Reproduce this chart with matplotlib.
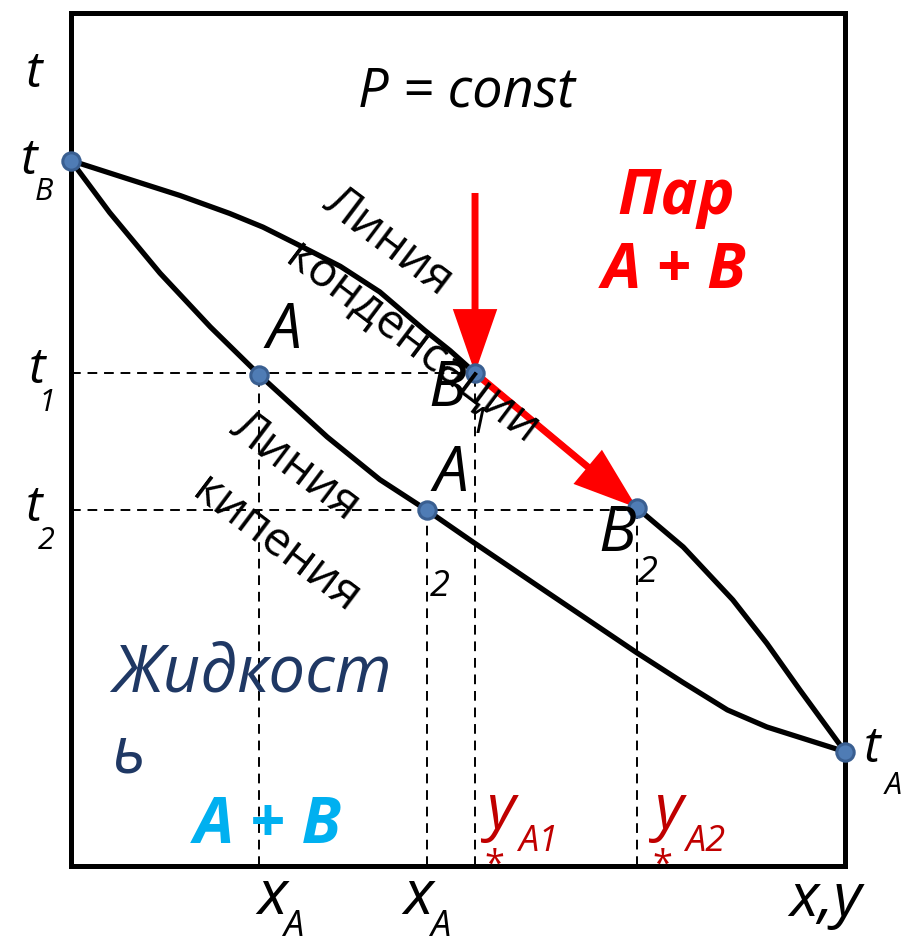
import numpy as np
import matplotlib
matplotlib.use("Agg")
import matplotlib.pyplot as plt
from matplotlib.patches import FancyArrowPatch

plt.rcParams['font.family'] = ['Open Sans', 'DejaVu Sans']

W, H = 908, 947

# composition (x, 0..1) and temperature (t, relative units)
dew_x = [0.0, 0.072, 0.141, 0.205, 0.248, 0.292, 0.348, 0.399, 0.457, 0.490,
         0.522, 0.627, 0.731, 0.791, 0.855, 0.899, 0.942, 1.0]
dew_t = [0.827, 0.806, 0.786, 0.765, 0.749, 0.729, 0.703, 0.673, 0.628, 0.604,
         0.578, 0.499, 0.420, 0.374, 0.312, 0.261, 0.206, 0.134]

boil_x = [0.0, 0.050, 0.115, 0.180, 0.243, 0.331, 0.399, 0.460, 0.519, 0.615,
          0.731, 0.791, 0.848, 0.899, 1.0]
boil_t = [0.827, 0.766, 0.695, 0.632, 0.576, 0.503, 0.453, 0.417, 0.380, 0.321,
          0.250, 0.215, 0.183, 0.163, 0.134]

# marked points: tB, A1, B1, A2, B2, tA
pt_names = ['tB', 'A1', 'B1', 'A2', 'B2', 'tA']
pt_x = [0.0, 0.243, 0.522, 0.460, 0.731, 1.0]
pt_t = [0.827, 0.576, 0.578, 0.417, 0.420, 0.134]

t1 = 0.578
t2 = 0.417
arrow_start_t = 0.789

fig = plt.figure(figsize=(W / 100, H / 100), dpi=100)
ax = fig.add_axes([71 / W, 1 - 866 / H, (845 - 71) / W, (866 - 13) / H])
ax.set_xlim(0, 1)
ax.set_ylim(0, 1)
ax.set_xticks([])
ax.set_yticks([])
for s in ax.spines.values():
    s.set_linewidth(3.6)
    s.set_color('black')

P = dict(zip(pt_names, zip(pt_x, pt_t)))

# dashed guide lines
dash = dict(color='black', lw=1.4, dashes=(5, 3.5), zorder=2)
ax.plot([0, P['B1'][0]], [t1, t1], **dash)
ax.plot([0, P['B2'][0]], [t2, t2], **dash)
for name in ['A1', 'A2', 'B1', 'B2']:
    ax.plot([P[name][0], P[name][0]], [0, P[name][1]], **dash)

# equilibrium curves
ax.plot(dew_x, dew_t, color='black', lw=3.8, solid_capstyle='round',
        solid_joinstyle='round', zorder=3, clip_on=False)
ax.plot(boil_x, boil_t, color='black', lw=3.8, solid_capstyle='round',
        solid_joinstyle='round', zorder=3, clip_on=False)

# red arrows
arrow_kw = dict(arrowstyle='simple,head_length=4.6,head_width=3.2,tail_width=0.5',
                mutation_scale=10, color='#ff0000', lw=0, shrinkA=0, shrinkB=0,
                zorder=4)
ax.add_patch(FancyArrowPatch((P['B1'][0], arrow_start_t), P['B1'], **arrow_kw))
ax.add_patch(FancyArrowPatch(P['B1'], P['B2'], **arrow_kw))

ax.plot(pt_x, pt_t, 'o', ms=12.5, mfc='#4f7cb5', mec='#3a5f91', mew=2.2,
        zorder=5, clip_on=False)


def txt(px, py, s, size, **kw):
    kw.setdefault('ha', 'center')
    kw.setdefault('va', 'center')
    fig.text(px / W, 1 - py / H, s, fontsize=size, **kw)


it = dict(style='italic')
# axis letters
txt(34, 74, 't', 36, **it)
txt(29, 161, 't', 36, **it)
txt(44, 192, 'B', 22, **it)
txt(37, 370, 't', 36, **it)
txt(47, 403, '1', 22, **it)
txt(34, 508, 't', 36, **it)
txt(46, 541, '2', 22, **it)
txt(872, 749, 't', 36, **it)
txt(893, 786, 'A', 22, **it)

txt(467, 92, 'P = const', 39, **it)

# point labels
txt(284, 332, 'A', 45, **it)
txt(451, 475, 'A', 45, **it)
txt(440, 587, '2', 26, **it)
txt(447, 390, 'B', 45, **it)
txt(479, 424, '1', 26, **it)
txt(617, 535, 'B', 45, **it)
txt(648, 573, '2', 26, **it)

# curve names
rot = -37
txt(388, 242, 'Линия', 34, rotation=rot, rotation_mode='anchor')
txt(413, 343, 'конденсации', 34, rotation=rot, rotation_mode='anchor')
txt(295, 467, 'Линия', 34, rotation=rot, rotation_mode='anchor')
txt(276, 545, 'кипения', 34, rotation=rot, rotation_mode='anchor')

# phase regions
txt(676, 197, 'Пар', 45, color='#ff0000', weight='bold', **it)
txt(674, 271, 'A + B', 45, color='#ff0000', weight='bold', **it)
txt(252, 674, 'Жидкост', 47, color='#1f3864', **it)
txt(129, 755, 'ь', 47, color='#1f3864', **it)
txt(268, 826, 'A + B', 46, color='#00b0f0', weight='bold', **it)

# compositions
red2 = '#c00000'
txt(500, 812, 'y', 45, color=red2, **it)
txt(538, 842, 'A1', 26, color=red2, **it)
txt(494, 866, '*', 26, color=red2)
txt(668, 812, 'y', 45, color=red2, **it)
txt(705, 842, 'A2', 26, color=red2, **it)
txt(662, 866, '*', 26, color=red2)

txt(272, 898, 'x', 45, **it)
txt(293, 927, 'A', 26, **it)
txt(418, 898, 'x', 45, **it)
txt(440, 927, 'A', 26, **it)
txt(826, 900, 'x,y', 44, **it)

fig.savefig('out.png', dpi=100)
